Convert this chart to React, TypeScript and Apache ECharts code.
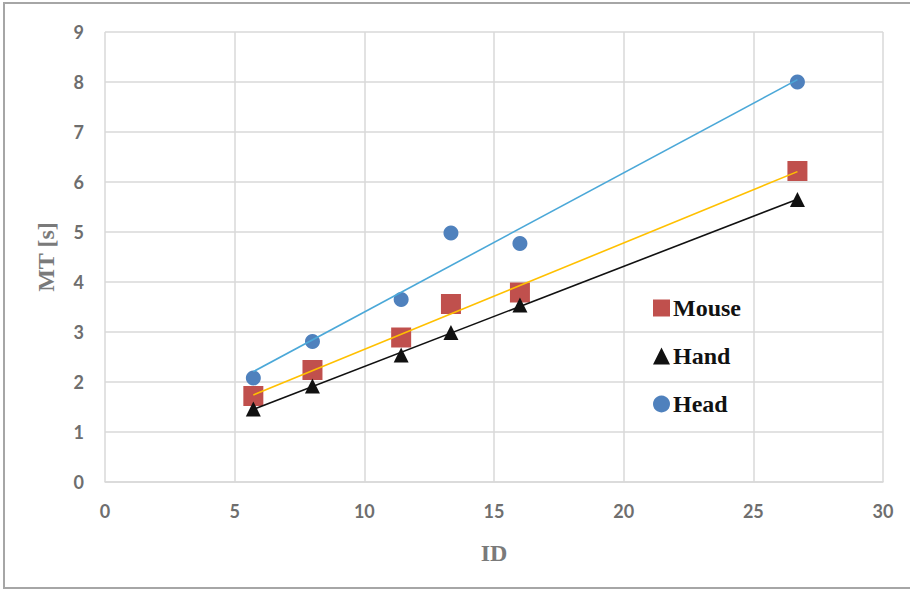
import React, { useEffect, useRef } from "react";
import * as echarts from "echarts";

const idValues = [5.72, 8.0, 11.42, 13.34, 16.0, 26.7];
const mouseMT = [1.72, 2.24, 2.89, 3.56, 3.79, 6.22];
const handMT = [1.46, 1.92, 2.54, 2.99, 3.54, 5.65];
const headMT = [2.08, 2.81, 3.65, 4.98, 4.77, 8.0];
const seriesNames = ["Mouse", "Hand", "Head"];

function fitLine(xs: number[], ys: number[]): number[][] {
  const n = xs.length;
  const mx = xs.reduce((a, b) => a + b, 0) / n;
  const my = ys.reduce((a, b) => a + b, 0) / n;
  let sxy = 0, sxx = 0;
  for (let i = 0; i < n; i++) {
    sxy += (xs[i] - mx) * (ys[i] - my);
    sxx += (xs[i] - mx) * (xs[i] - mx);
  }
  const b = sxy / sxx;
  const a = my - b * mx;
  const x0 = Math.min(...xs), x1 = Math.max(...xs);
  return [[x0, a + b * x0], [x1, a + b * x1]];
}

const pts = (ys: number[]) => idValues.map((x, i) => [x, ys[i]]);

export default function App() {
  const ref = useRef<HTMLDivElement>(null);
  useEffect(() => {
    if (!ref.current) return;
    const chart = echarts.init(ref.current, undefined, { renderer: "svg" });
    const tickFont = { fontFamily: "Lato", fontWeight: "bold" as const, fontSize: 18, color: "#6e6e6e" };
    const gridColor = "#d9d9d9";
    const titleFont = { fontFamily: "Liberation Serif", fontWeight: "bold" as const, fontSize: 24, color: "#7a7a7a" };
    chart.setOption({
      animation: false,
      backgroundColor: "#fff",
      grid: { left: 105, right: 27, top: 32, bottom: 107 },
      graphic: [
        {
          type: "rect",
          shape: { x: 4, y: 3, width: 930, height: 585 },
          style: { fill: "none", stroke: "#a6a6a6", lineWidth: 2 },
          silent: true,
          z: -1,
        },
      ],
      xAxis: {
        type: "value",
        min: 0,
        max: 30,
        interval: 5,
        name: "ID",
        nameLocation: "middle",
        nameGap: 59,
        nameTextStyle: titleFont,
        axisLine: { show: true, lineStyle: { color: gridColor, width: 1.5 } },
        axisTick: { show: false },
        axisLabel: { ...tickFont, margin: 20 },
        splitLine: { show: true, lineStyle: { color: gridColor, width: 1.5 } },
      },
      yAxis: {
        type: "value",
        min: 0,
        max: 9,
        interval: 1,
        name: "MT [s]",
        nameLocation: "middle",
        nameGap: 47,
        nameTextStyle: titleFont,
        axisLine: { show: false },
        axisTick: { show: false },
        axisLabel: { ...tickFont, margin: 21 },
        splitLine: { show: true, lineStyle: { color: gridColor, width: 1.5 } },
      },
      legend: {
        orient: "vertical",
        left: 648,
        top: 291,
        itemWidth: 17,
        itemHeight: 17,
        itemGap: 24,
        data: seriesNames,
        textStyle: { fontFamily: "Liberation Serif", fontWeight: "bold", fontSize: 24, color: "#111", padding: [0, 0, 0, -2] },
      },
      series: [
        {
          name: "Mouse trend",
          type: "line",
          data: fitLine(idValues, mouseMT),
          showSymbol: false,
          lineStyle: { color: "#FFC000", width: 1.6 },
          z: 3,
        },
        {
          name: "Hand trend",
          type: "line",
          data: fitLine(idValues, handMT),
          showSymbol: false,
          lineStyle: { color: "#111", width: 1.6 },
          z: 3,
        },
        {
          name: "Head trend",
          type: "line",
          data: fitLine(idValues, headMT),
          showSymbol: false,
          lineStyle: { color: "#4BA8D8", width: 1.6 },
          z: 3,
        },
        {
          name: "Mouse",
          type: "scatter",
          data: pts(mouseMT),
          symbol: "rect",
          symbolSize: 20,
          itemStyle: { color: "#C0504D", opacity: 1 },
          z: 2,
        },
        {
          name: "Hand",
          type: "scatter",
          data: pts(handMT),
          symbol: "triangle",
          symbolSize: 15,
          itemStyle: { color: "#111", opacity: 1 },
          z: 4,
        },
        {
          name: "Head",
          type: "scatter",
          data: pts(headMT),
          symbol: "circle",
          symbolSize: 15,
          itemStyle: { color: "#4F81BD", opacity: 1 },
          z: 2,
        },
      ],
    });
    return () => chart.dispose();
  }, []);
  return (
    <div
      ref={ref}
      style={{ position: "fixed", left: 0, top: 0, width: 910, height: 589, background: "#fff" }}
    />
  );
}
